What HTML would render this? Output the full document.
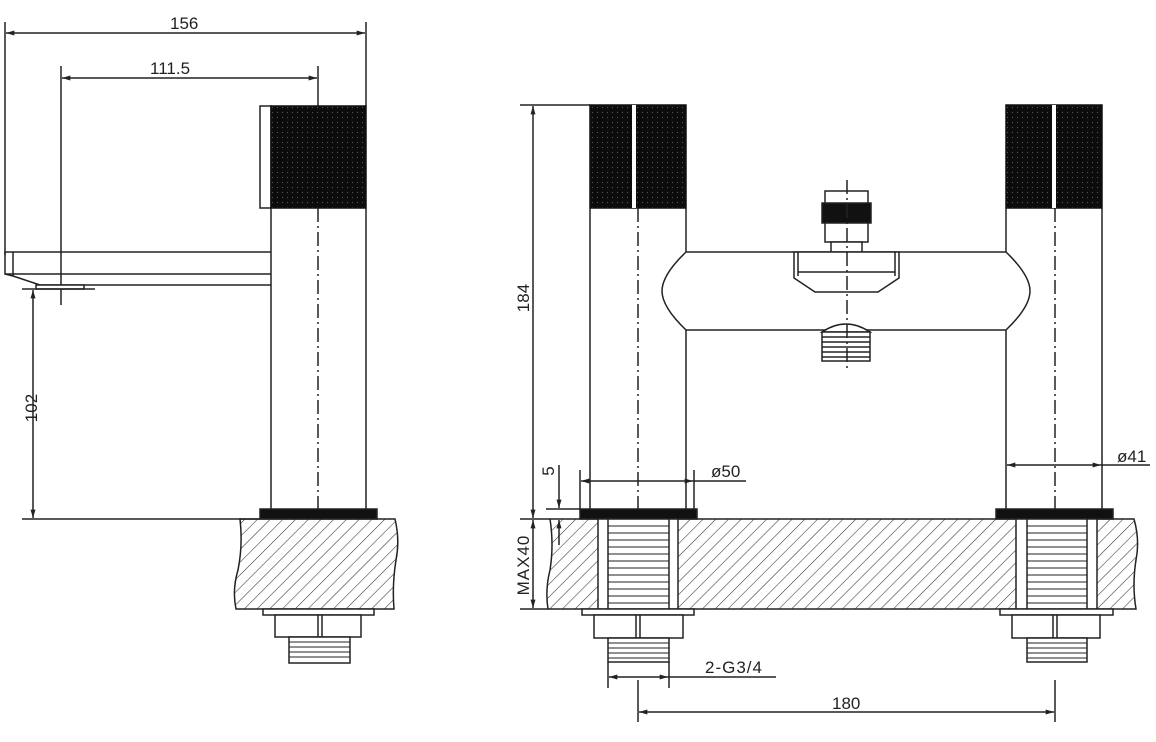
<!DOCTYPE html>
<html><head><meta charset="utf-8"><style>
html,body{margin:0;padding:0;background:#fff;}
svg{display:block;}
text{font-family:"Liberation Sans","DejaVu Sans",sans-serif;font-size:17px;fill:#222;}
</style></head><body>
<svg width="1156" height="742" viewBox="0 0 1156 742" xmlns="http://www.w3.org/2000/svg">
<defs>
<pattern id="h" patternUnits="userSpaceOnUse" width="9" height="9" patternTransform="rotate(45)">
<line x1="0" y1="0" x2="0" y2="9" stroke="#333" stroke-width="1.1"/>
</pattern>
<pattern id="k" patternUnits="userSpaceOnUse" width="5" height="5">
<rect width="5" height="5" fill="#0c0c0c"/><circle cx="2.5" cy="2.5" r="0.6" fill="#555"/>
</pattern>
<marker id="a" viewBox="0 0 10 6" refX="10" refY="3" markerWidth="14" markerHeight="5" orient="auto-start-reverse" markerUnits="userSpaceOnUse">
<path d="M0,0 L10,3 L0,6 Z" fill="#222"/>
</marker>
</defs>
<g stroke="#222" stroke-width="1.5" fill="none">
<!-- LEFT VIEW -->
<line x1="5" y1="22" x2="5" y2="255"/>
<line x1="366" y1="22" x2="366" y2="106"/>
<line x1="6" y1="33" x2="365" y2="33" marker-start="url(#a)" marker-end="url(#a)"/>
<line x1="61" y1="66" x2="61" y2="305"/>
<line x1="318" y1="66" x2="318" y2="106"/>
<line x1="62" y1="78" x2="317" y2="78" marker-start="url(#a)" marker-end="url(#a)"/>
<rect x="260" y="106" width="11" height="102" fill="#fff"/>
<rect x="271" y="106" width="95" height="102" fill="url(#k)" stroke="#111"/>
<line x1="271" y1="208" x2="271" y2="509"/>
<line x1="366" y1="208" x2="366" y2="509"/>
<line x1="318" y1="208" x2="318" y2="515" stroke-dasharray="14,4,2,4"/>
<path d="M271,252 L5,252 L5,274 L13,276 L40,285 L271,285"/>
<line x1="13" y1="252" x2="13" y2="276"/>
<line x1="5" y1="274" x2="271" y2="274"/>
<rect x="36" y="285" width="48" height="4" fill="#fff"/>
<line x1="22" y1="289" x2="95" y2="289"/>
<line x1="33" y1="290" x2="33" y2="518" marker-start="url(#a)" marker-end="url(#a)"/>
<line x1="22" y1="519" x2="260" y2="519"/>
<rect x="260" y="509" width="117" height="10" fill="#111"/>
<path d="M240,519 L395,519 Q400,540 396,560 Q392,585 394,609 L236,609 Q232,590 238,570 Q243,545 240,519 Z" fill="url(#h)"/>
<rect x="263" y="609" width="111" height="6" fill="#fff"/>
<rect x="275" y="615" width="86" height="22" fill="#fff"/>
<line x1="318" y1="615" x2="318" y2="637"/>
<line x1="322" y1="615" x2="322" y2="637"/>
<rect x="289" y="637" width="61" height="26" fill="#fff"/>
<path d="M289,642 H350 M289,647 H350 M289,652 H350 M289,657 H350" stroke-width="0.9"/>
<!-- RIGHT VIEW -->
<line x1="520" y1="105" x2="590" y2="105"/>
<line x1="533" y1="106" x2="533" y2="518" marker-start="url(#a)" marker-end="url(#a)"/>
<rect x="590" y="105" width="96" height="103" fill="url(#k)" stroke="#111"/>
<rect x="632" y="105" width="4" height="103" fill="#fff" stroke="none"/>
<rect x="1006" y="105" width="96" height="103" fill="url(#k)" stroke="#111"/>
<rect x="1052" y="105" width="4" height="103" fill="#fff" stroke="none"/>
<line x1="590" y1="208" x2="590" y2="509"/>
<line x1="686" y1="208" x2="686" y2="252"/>
<line x1="686" y1="330" x2="686" y2="509"/>
<line x1="1006" y1="208" x2="1006" y2="252"/>
<line x1="1006" y1="330" x2="1006" y2="509"/>
<line x1="1102" y1="208" x2="1102" y2="509"/>
<path d="M686,252 L1006,252 Q1030,275 1030,291 Q1030,307 1006,330 L686,330 Q662,307 662,291 Q662,275 686,252 Z" fill="#fff"/>
<line x1="638" y1="208" x2="638" y2="515" stroke-dasharray="14,4,2,4"/>
<line x1="1055" y1="208" x2="1055" y2="515" stroke-dasharray="14,4,2,4"/>
<rect x="825" y="191" width="43" height="51" fill="#fff"/>
<rect x="822" y="203" width="49" height="20" fill="#111"/>
<rect x="831" y="242" width="31" height="10" fill="#fff"/>
<path d="M794,252 L899,252 L899,278 L878,292 L815,292 L794,278 Z" fill="#fff"/>
<path d="M798,252 L798,276 M895,252 L895,276 M798,272 H895"/>
<path d="M822,332 Q846,316 870,332 Z" fill="#fff"/>
<rect x="822" y="332" width="48" height="29" fill="#fff"/>
<path d="M822,337 H870 M822,342 H870 M822,347 H870 M822,352 H870 M822,357 H870" stroke-width="1.4"/>
<line x1="847" y1="180" x2="847" y2="372" stroke-dasharray="14,4,2,4"/>
<rect x="580" y="509" width="117" height="10" fill="#111"/>
<rect x="996" y="509" width="117" height="10" fill="#111"/>
<path d="M550,519 L1134,519 Q1140,540 1136,560 Q1132,585 1136,609 L548,609 Q545,590 550,570 Q554,545 550,519 Z" fill="url(#h)"/>
<rect x="598" y="519" width="80" height="90" fill="#fff"/>
<rect x="608" y="519" width="61" height="90" fill="#fff"/>
<rect x="1016" y="519" width="81" height="90" fill="#fff"/>
<rect x="1027" y="519" width="60" height="90" fill="#fff"/>
<path d="M608,526 H669 M608,533 H669 M608,540 H669 M608,547 H669 M608,554 H669 M608,561 H669 M608,568 H669 M608,575 H669 M608,582 H669 M608,589 H669 M608,596 H669 M608,603 H669" stroke-width="1"/>
<path d="M1027,526 H1087 M1027,533 H1087 M1027,540 H1087 M1027,547 H1087 M1027,554 H1087 M1027,561 H1087 M1027,568 H1087 M1027,575 H1087 M1027,582 H1087 M1027,589 H1087 M1027,596 H1087 M1027,603 H1087" stroke-width="1"/>
<rect x="582" y="609" width="112" height="6" fill="#fff"/>
<rect x="594" y="615" width="89" height="23" fill="#fff"/>
<line x1="636" y1="615" x2="636" y2="638"/><line x1="640" y1="615" x2="640" y2="638"/>
<rect x="608" y="638" width="61" height="24" fill="#fff"/>
<path d="M608,643 H669 M608,648 H669 M608,653 H669 M608,658 H669" stroke-width="0.9"/>
<rect x="1000" y="609" width="113" height="6" fill="#fff"/>
<rect x="1012" y="615" width="88" height="23" fill="#fff"/>
<line x1="1053" y1="615" x2="1053" y2="638"/><line x1="1057" y1="615" x2="1057" y2="638"/>
<rect x="1027" y="638" width="60" height="24" fill="#fff"/>
<path d="M1027,643 H1087 M1027,648 H1087 M1027,653 H1087 M1027,658 H1087" stroke-width="0.9"/>
<!-- dims right -->
<line x1="520" y1="519" x2="550" y2="519"/>
<line x1="520" y1="609" x2="548" y2="609"/>
<line x1="533" y1="520" x2="533" y2="608" marker-start="url(#a)" marker-end="url(#a)"/>
<line x1="546" y1="509" x2="580" y2="509"/>
<line x1="559" y1="465" x2="559" y2="508" marker-end="url(#a)"/>
<line x1="559" y1="545" x2="559" y2="520" marker-end="url(#a)"/>
<line x1="580" y1="470" x2="580" y2="509"/>
<line x1="694" y1="470" x2="694" y2="509"/>
<line x1="581" y1="481" x2="693" y2="481" marker-start="url(#a)" marker-end="url(#a)"/>
<line x1="693" y1="481" x2="746" y2="481"/>
<line x1="1007" y1="465" x2="1101" y2="465" marker-start="url(#a)" marker-end="url(#a)"/>
<line x1="1101" y1="465" x2="1150" y2="465"/>
<line x1="608" y1="662" x2="608" y2="688"/>
<line x1="669" y1="662" x2="669" y2="688"/>
<line x1="609" y1="677" x2="668" y2="677" marker-start="url(#a)" marker-end="url(#a)"/>
<line x1="668" y1="677" x2="776" y2="677"/>
<line x1="638" y1="680" x2="638" y2="722"/>
<line x1="1055" y1="680" x2="1055" y2="722"/>
<line x1="639" y1="712" x2="1054" y2="712" marker-start="url(#a)" marker-end="url(#a)"/>
</g>
<text x="170" y="29">156</text>
<text x="150" y="74">111.5</text>
<text transform="translate(37,408) rotate(-90)" text-anchor="middle">102</text>
<text transform="translate(529,298) rotate(-90)" text-anchor="middle">184</text>
<text transform="translate(529,565) rotate(-90)" text-anchor="middle" style="letter-spacing:1px">MAX40</text>
<text transform="translate(554,471) rotate(-90)" text-anchor="middle">5</text>
<text x="711" y="477">ø50</text>
<text x="1117" y="462">ø41</text>
<text x="705" y="673" style="letter-spacing:1px">2-G3/4</text>
<text x="832" y="709">180</text>
</svg>
</body></html>
